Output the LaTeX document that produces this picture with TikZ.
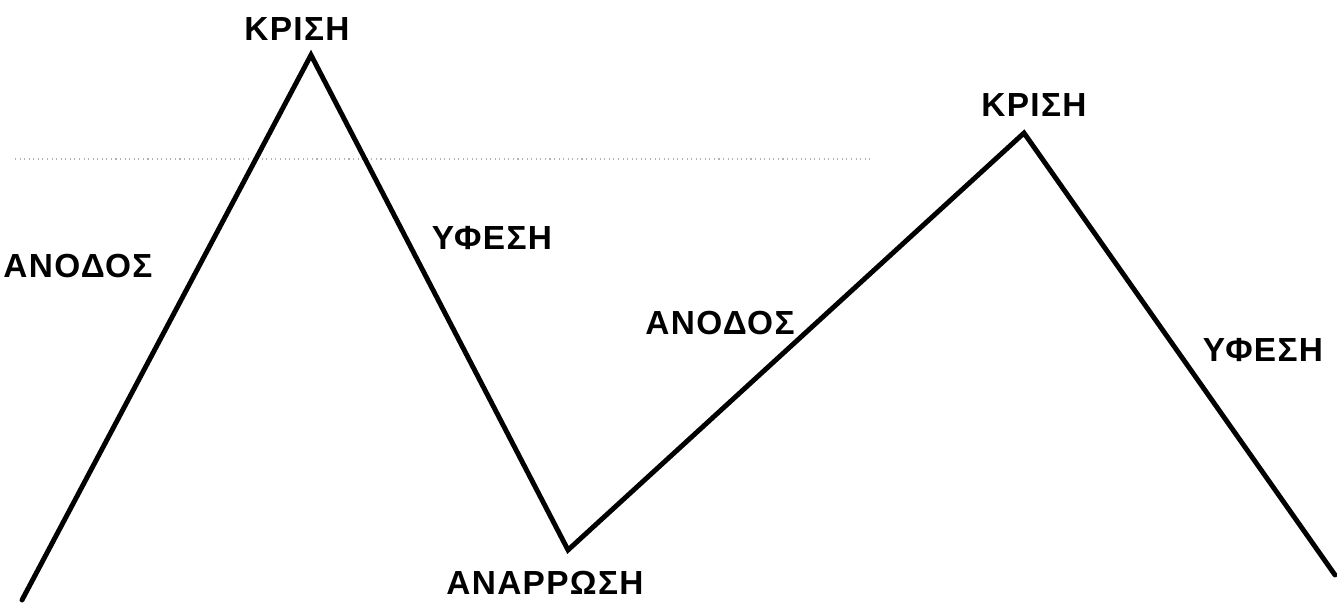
\documentclass[tikz,border=0pt]{standalone}
\usepackage{fontspec}
\setmainfont{Liberation Sans}
\tikzset{
    phase/.style={font=\fontsize{19}{22}\selectfont\bfseries\addfontfeature{LetterSpace=4}, inner sep=0pt},
    cycleline/.style={line width=2.8pt, line join=miter, line cap=round},
}
\begin{document}
\begin{tikzpicture}[x=0.02cm, y=-0.02cm]
                \useasboundingbox (0,0) rectangle (1337,606);
                % faint guide line
                \draw[gray!60, dotted, line width=0.6pt] (15,159) -- (870,159);
                % turning points of the cycle
                \coordinate (start) at (22,600);
                \coordinate (peakA) at (311,55);
                \coordinate (trough) at (568,550);
                \coordinate (peakB) at (1024,133);
                \coordinate (end) at (1335,575);
                \draw[cycleline] (start) -- (peakA) -- (trough) -- (peakB) -- (end);
                % phase labels
                \node[phase] (crisisA) at (297,29) {ΚΡΙΣΗ};
                \node[phase] (riseA) at (78,266) {ΑΝΟΔΟΣ};
                \node[phase] (fallA) at (492,238) {ΥΦΕΣΗ};
                \node[phase] (recovery) at (545,583) {ΑΝΑΡΡΩΣΗ};
                \node[phase] (riseB) at (720,323) {ΑΝΟΔΟΣ};
                \node[phase] (crisisB) at (1034,105) {ΚΡΙΣΗ};
                \node[phase] (fallB) at (1263,350) {ΥΦΕΣΗ};
            \end{tikzpicture}
\end{document}
